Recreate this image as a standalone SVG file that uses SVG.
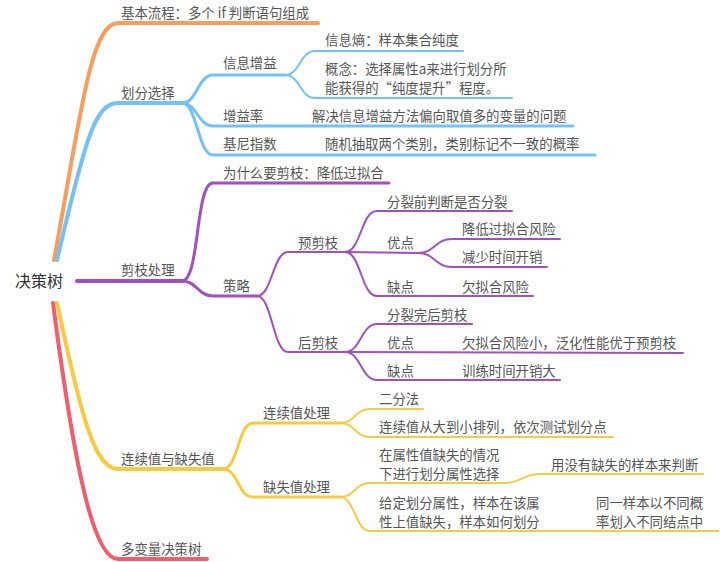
<svg xmlns="http://www.w3.org/2000/svg" width="720" height="562" viewBox="0 0 720 562">
<style>
text{font-family:"Noto Sans CJK SC","Noto Sans",sans-serif;font-size:13.4px;fill:#555}
.root{font-size:16px;fill:#333}
path{fill:none;stroke-linecap:round}
.o{stroke:#F89D5C}.b{stroke:#72C2F7}.p{stroke:#A24FC1}.y{stroke:#F9C93E}.r{stroke:#F25C6B}
.l1{stroke-width:4}.l2{stroke-width:3}.l3{stroke-width:2}
</style>
<rect width="720" height="562" fill="#fff"/>
<g id="connectors">
<path class="o l1" d="M54,260 C80,120 90,23 118,23 L318,23"/>
<path class="b l1" d="M57,260 C85,140 95,103 118,103 L182,103"/>
<path class="p l1" d="M77,281 L182,281"/>
<path class="y l1" d="M57,303 C82,420 95,469 118,469 L223,469"/>
<path class="r l1" d="M53,303 C76,480 95,559 118,559 L207,559"/>
<path class="b l2" d="M182,103 C197,103 198,75 213,75 L285,75"/>
<path class="b l2" d="M182,103 C197,103 198,126 213,126 L573,126"/>
<path class="b l2" d="M182,103 C197,103 198,155 213,155 L595,155"/>
<path class="b l3" d="M285,75 C300,75 300,51 315,51 L463,51"/>
<path class="b l3" d="M285,75 C300,75 300,98 315,98 L512,98"/>
<path class="p l2" d="M182,281 C200,281 195,183 213,183 L389,183"/>
<path class="p l2" d="M182,281 C197,281 198,296 213,296 L257,296"/>
<path class="p l3" d="M257,296 C272,296 273,252 288,252 L345,252"/>
<path class="p l3" d="M257,296 C272,296 273,352 288,352 L345,352"/>
<path class="p l3" d="M345,252 C361,252 361,211 377,211 L512,211"/>
<path class="p l3" d="M345,252 L418,253"/>
<path class="p l3" d="M345,252 C361,252 361,296 377,296 L533,296"/>
<path class="p l3" d="M418,253 C435,253 435,239 452,239 L560,239"/>
<path class="p l3" d="M418,253 C435,253 435,267 452,267 L547,267"/>
<path class="p l3" d="M345,352 C361,352 361,324 377,324 L472,324"/>
<path class="p l3" d="M345,352 L683,353"/>
<path class="p l3" d="M345,352 C361,352 361,380 377,380 L560,380"/>
<path class="y l2" d="M223,469 C238,469 238,423 253,423 L340,423"/>
<path class="y l2" d="M223,469 C238,469 238,497 253,497 L340,497"/>
<path class="y l3" d="M340,423 C355,423 355,409 370,409 L423,409"/>
<path class="y l3" d="M340,423 C355,423 355,437 370,437 L613,437"/>
<path class="y l3" d="M340,497 C355,497 355,483 370,483 L505,483 C522,483 522,474 540,474 L703,474"/>
<path class="y l3" d="M340,497 C355,497 355,531 370,531 L718,531"/>
</g>
<g id="root"><text class="root" x="15" y="287">决策树</text></g>
<g id="n-jiben"><text x="121" y="18">基本流程：多个 if 判断语句组成</text></g>
<g id="n-huafen"><text x="121" y="98">划分选择</text></g>
<g id="n-xxzy"><text x="223" y="68">信息增益</text></g>
<g id="n-xxs"><text x="325" y="45">信息熵：样本集合纯度</text></g>
<g id="n-gainian"><text x="325" y="74">概念：选择属性a来进行划分所</text><text x="325" y="93">能获得的“纯度提升”程度。</text></g>
<g id="n-zyl"><text x="223" y="121">增益率</text></g>
<g id="n-zyl-c"><text x="312" y="121">解决信息增益方法偏向取值多的变量的问题</text></g>
<g id="n-jn"><text x="223" y="149">基尼指数</text></g>
<g id="n-jn-c"><text x="325" y="149">随机抽取两个类别，类别标记不一致的概率</text></g>
<g id="n-jianzhi"><text x="121" y="275">剪枝处理</text></g>
<g id="n-why"><text x="223" y="178">为什么要剪枝：降低过拟合</text></g>
<g id="n-celue"><text x="223" y="291">策略</text></g>
<g id="n-yjz"><text x="298" y="248">预剪枝</text></g>
<g id="n-hjz"><text x="298" y="348">后剪枝</text></g>
<g id="n-flq"><text x="387" y="207">分裂前判断是否分裂</text></g>
<g id="n-yd1"><text x="387" y="248">优点</text></g>
<g id="n-yd1a"><text x="462" y="234">降低过拟合风险</text></g>
<g id="n-yd1b"><text x="462" y="262">减少时间开销</text></g>
<g id="n-qd1"><text x="387" y="292">缺点</text></g>
<g id="n-qd1a"><text x="462" y="292">欠拟合风险</text></g>
<g id="n-flw"><text x="387" y="320">分裂完后剪枝</text></g>
<g id="n-yd2"><text x="387" y="348">优点</text></g>
<g id="n-yd2a"><text x="462" y="348">欠拟合风险小，泛化性能优于预剪枝</text></g>
<g id="n-qd2"><text x="387" y="376">缺点</text></g>
<g id="n-qd2a"><text x="462" y="376">训练时间开销大</text></g>
<g id="n-lxz"><text x="121" y="464">连续值与缺失值</text></g>
<g id="n-dbl"><text x="121" y="554">多变量决策树</text></g>
<g id="n-lxzcl"><text x="263" y="418">连续值处理</text></g>
<g id="n-qszcl"><text x="263" y="492">缺失值处理</text></g>
<g id="n-efz"><text x="379" y="404">二分法</text></g>
<g id="n-lxzpl"><text x="379" y="432">连续值从大到小排列，依次测试划分点</text></g>
<g id="n-zsx"><text x="379" y="460">在属性值缺失的情况</text><text x="379" y="479">下进行划分属性选择</text></g>
<g id="n-zsx-c"><text x="551" y="470">用没有缺失的样本来判断</text></g>
<g id="n-gd"><text x="379" y="508">给定划分属性，样本在该属</text><text x="379" y="527">性上值缺失，样本如何划分</text></g>
<g id="n-gd-c"><text x="596" y="508">同一样本以不同概</text><text x="596" y="527">率划入不同结点中</text></g>
</svg>
